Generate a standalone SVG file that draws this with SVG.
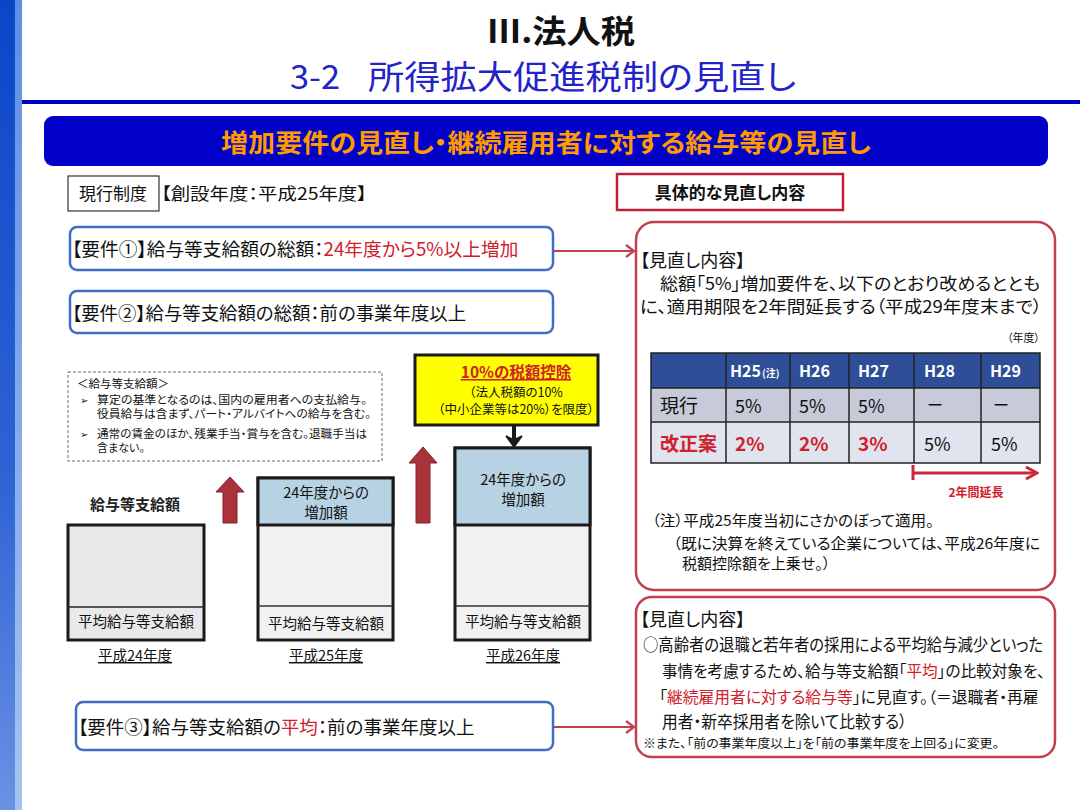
<svg xmlns="http://www.w3.org/2000/svg" width="1080" height="810" viewBox="0 0 1080 810">
<defs>
<style>
text{font-family:"Noto Sans CJK JP","Noto Sans",sans-serif;fill:#111;font-feature-settings:"palt";}
.b{font-weight:bold;}
.red{fill:#d0202c;}
.req{fill:#fff;stroke:#3c6ec4;stroke-width:2.5;}
.rbox{fill:#fff;stroke:#c2404e;stroke-width:2.5;}
.bar{stroke:#1a1a1a;stroke-width:3;}
.conn{stroke:#c0404e;stroke-width:2.2;fill:none;}
.up{fill:#a9323b;stroke:#7e2028;stroke-width:1;}
.cell{stroke:#222;stroke-width:1.5;}
.hd{fill:#fff;font-weight:bold;}
</style>
<linearGradient id="strip" x1="0" y1="0" x2="0" y2="1">
<stop offset="0" stop-color="#0a46c8"/>
<stop offset="0.6" stop-color="#2f64d4"/>
<stop offset="1" stop-color="#6a92e4"/>
</linearGradient>
<linearGradient id="strip2" x1="0" y1="0" x2="0" y2="1">
<stop offset="0" stop-color="#5d8ee6"/>
<stop offset="1" stop-color="#a9c2f0"/>
</linearGradient>
<marker id="chev" markerWidth="12" markerHeight="14" refX="10" refY="7" orient="auto" markerUnits="userSpaceOnUse">
<path d="M2,1 L10,7 L2,13" fill="none" stroke="#c0404e" stroke-width="2.2"/>
</marker>
<marker id="tri" markerWidth="14" markerHeight="14" refX="12" refY="7" orient="auto" markerUnits="userSpaceOnUse">
<path d="M1,1 L12,7 L1,13" fill="none" stroke="#c8283c" stroke-width="3"/>
</marker>
</defs>
<rect width="1080" height="810" fill="#fff"/>
<rect x="0" y="0" width="15" height="810" fill="url(#strip)"/>
<rect x="15" y="0" width="7" height="810" fill="url(#strip2)"/>

<g id="title">
<text x="561" y="43" font-size="32" text-anchor="middle" class="b" textLength="148" lengthAdjust="spacingAndGlyphs">Ⅲ.法人税</text>
<text x="290" y="89" font-size="33" style="fill:#2323c8" textLength="50" lengthAdjust="spacingAndGlyphs">3-2</text>
<text x="368" y="89" font-size="33" style="fill:#2323c8" textLength="428" lengthAdjust="spacingAndGlyphs">所得拡大促進税制の見直し</text>
<rect x="22" y="100" width="1058" height="4" fill="#0000c0"/>
</g>

<g id="banner">
<rect x="44" y="116" width="1004" height="50" rx="9" fill="#0000c8"/>
<text x="546" y="152" font-size="25" text-anchor="middle" class="b" style="fill:#ff9a00" textLength="650" lengthAdjust="spacingAndGlyphs">増加要件の見直し・継続雇用者に対する給与等の見直し</text>
</g>

<g id="current-system">
<rect x="68" y="176" width="91" height="35" fill="#fff" stroke="#333" stroke-width="1.2"/>
<text x="113" y="200" font-size="17" text-anchor="middle">現行制度</text>
<text x="161" y="200" font-size="17" textLength="206" lengthAdjust="spacingAndGlyphs">【創設年度：平成25年度】</text>
</g>

<g id="concrete-title">
<rect x="617" y="174" width="226" height="36" fill="#fff" stroke="#c0203a" stroke-width="2.5"/>
<text x="730" y="199" font-size="17" text-anchor="middle" class="b">具体的な見直し内容</text>
</g>

<g id="req1">
<rect class="req" x="70" y="227" width="483" height="43" rx="7"/>
<text x="72" y="256" font-size="18.7">【要件①】給与等支給額の総額：<tspan class="red">24年度から5%以上増加</tspan></text>
</g>

<g id="req2">
<rect class="req" x="70" y="291" width="483" height="42" rx="7"/>
<text x="72" y="320" font-size="18.4">【要件②】給与等支給額の総額：前の事業年度以上</text>
</g>

<g id="note-box">
<rect x="68" y="372" width="314" height="89" fill="#fff" stroke="#666" stroke-width="1" stroke-dasharray="3,2"/>
<text x="77" y="388" font-size="11.5">＜給与等支給額＞</text>
<text x="80" y="404" font-size="10">➢</text>
<text x="97" y="404" font-size="11" textLength="270" lengthAdjust="spacingAndGlyphs">算定の基準となるのは、国内の雇用者への支払給与。</text>
<text x="97" y="418" font-size="11" textLength="274" lengthAdjust="spacingAndGlyphs">役員給与は含まず、パート・アルバイトへの給与を含む。</text>
<text x="80" y="438" font-size="10">➢</text>
<text x="97" y="438" font-size="11" textLength="270" lengthAdjust="spacingAndGlyphs">通常の賃金のほか、残業手当・賞与を含む。退職手当は</text>
<text x="97" y="452" font-size="11">含まない。</text>
</g>

<g id="tax-credit">
<rect x="415" y="355" width="183" height="70" fill="#ffff00" stroke="#1a1a1a" stroke-width="3"/>
<text x="516" y="378" font-size="15.5" text-anchor="middle" class="b red" text-decoration="underline">10%の税額控除</text>
<text x="516" y="397" font-size="12.5" text-anchor="middle">（法人税額の10%</text>
<text x="516" y="414" font-size="12.5" text-anchor="middle">（中小企業等は20%）を限度）</text>
</g>

<g id="bar-h24">
<text x="135" y="510" font-size="15" text-anchor="middle" class="b" style="fill:#222">給与等支給額</text>
<rect class="bar" x="68" y="525" width="136" height="115" fill="#e9e9e9"/>
<line x1="68" y1="607" x2="204" y2="607" stroke="#222" stroke-width="1.5"/>
<text x="136" y="627" font-size="14.5" text-anchor="middle">平均給与等支給額</text>
<text x="135" y="661" font-size="14.5" text-anchor="middle" text-decoration="underline">平成24年度</text>
</g>

<g id="bar-h25">
<rect class="bar" x="258" y="478" width="135" height="162" fill="#f1f1f1"/>
<rect x="258" y="478" width="135" height="47" fill="#b7d3e3" stroke="#1a1a1a" stroke-width="3"/>
<line x1="258" y1="606" x2="393" y2="606" stroke="#333" stroke-width="1.5"/>
<text x="326" y="498" font-size="14.5" text-anchor="middle">24年度からの</text>
<text x="326" y="518" font-size="14.5" text-anchor="middle">増加額</text>
<text x="326" y="629" font-size="14.5" text-anchor="middle">平均給与等支給額</text>
<text x="326" y="661" font-size="14.5" text-anchor="middle" text-decoration="underline">平成25年度</text>
</g>

<g id="bar-h26">
<rect class="bar" x="455" y="448" width="135" height="192" fill="#f1f1f1"/>
<rect x="455" y="448" width="135" height="77" fill="#b7d3e3" stroke="#1a1a1a" stroke-width="3"/>
<line x1="455" y1="606" x2="590" y2="606" stroke="#333" stroke-width="1.5"/>
<text x="523" y="485" font-size="14.5" text-anchor="middle">24年度からの</text>
<text x="523" y="505" font-size="14.5" text-anchor="middle">増加額</text>
<text x="523" y="627" font-size="14.5" text-anchor="middle">平均給与等支給額</text>
<text x="523" y="661" font-size="14.5" text-anchor="middle" text-decoration="underline">平成26年度</text>
</g>

<g id="req3">
<rect class="req" x="76" y="702" width="477" height="48" rx="7"/>
<text x="78" y="734" font-size="18.5">【要件③】給与等支給額の<tspan class="red">平均</tspan>：前の事業年度以上</text>
</g>

<g id="review1">
<rect class="rbox" x="636" y="222" width="419" height="368" rx="18"/>
<text x="640" y="267" font-size="18">【見直し内容】</text>
<text x="660" y="290" font-size="17" textLength="380" lengthAdjust="spacingAndGlyphs">総額「5%」増加要件を、以下のとおり改めるととも</text>
<text x="640" y="313" font-size="17" textLength="402" lengthAdjust="spacingAndGlyphs">に、適用期限を2年間延長する（平成29年度末まで）</text>
<text x="1040" y="342" font-size="11" text-anchor="end">（年度）</text>
<g id="table">
<rect x="651" y="353" width="389" height="35" fill="#2e4e98"/>
<rect x="651" y="388" width="389" height="34" fill="#c6cad9"/>
<rect x="651" y="422" width="389" height="41" fill="#dfe4ee"/>
<g class="cell">
<rect x="651" y="353" width="389" height="110" fill="none"/>
<line x1="651" y1="388" x2="1040" y2="388"/>
<line x1="651" y1="422" x2="1040" y2="422"/>
<line x1="726" y1="353" x2="726" y2="463"/>
<line x1="790" y1="353" x2="790" y2="463"/>
<line x1="849" y1="353" x2="849" y2="463"/>
<line x1="914" y1="353" x2="914" y2="463"/>
<line x1="981" y1="353" x2="981" y2="463"/>
</g>
<text x="730" y="377" font-size="16" class="hd">H25</text>
<text x="762" y="377" font-size="10" class="hd">(注)</text>
<text x="799" y="377" font-size="16" class="hd">H26</text>
<text x="858" y="377" font-size="16" class="hd">H27</text>
<text x="924" y="377" font-size="16" class="hd">H28</text>
<text x="990" y="377" font-size="16" class="hd">H29</text>
<text x="660" y="413" font-size="19">現行</text>
<text x="735" y="413" font-size="18">5%</text>
<text x="799" y="413" font-size="18">5%</text>
<text x="858" y="413" font-size="18">5%</text>
<text x="927" y="411" font-size="16">ー</text>
<text x="993" y="411" font-size="16">ー</text>
<text x="660" y="451" font-size="19" class="b red">改正案</text>
<text x="735" y="451" font-size="19" class="b red">2%</text>
<text x="799" y="451" font-size="19" class="b red">2%</text>
<text x="858" y="451" font-size="19" class="b red">3%</text>
<text x="924" y="451" font-size="18">5%</text>
<text x="991" y="451" font-size="18">5%</text>
</g>
<text x="976" y="497" font-size="12" text-anchor="middle" class="b red">2年間延長</text>
<text x="652" y="526" font-size="15" textLength="282" lengthAdjust="spacingAndGlyphs">（注）平成25年度当初にさかのぼって適用。</text>
<text x="673" y="549" font-size="15" textLength="367" lengthAdjust="spacingAndGlyphs">（既に決算を終えている企業については、平成26年度に</text>
<text x="682" y="569" font-size="15">税額控除額を上乗せ。）</text>
</g>

<g id="review2">
<rect class="rbox" x="636" y="597" width="419" height="160" rx="16"/>
<text x="640" y="626" font-size="18">【見直し内容】</text>
<text x="643" y="651" font-size="16.5" textLength="400" lengthAdjust="spacingAndGlyphs">○高齢者の退職と若年者の採用による平均給与減少といった</text>
<text x="662" y="677" font-size="15.6">事情を考慮するため、給与等支給額「<tspan class="red">平均</tspan>」の比較対象を、</text>
<text x="659" y="703" font-size="15.8">「<tspan class="red">継続雇用者に対する給与等</tspan>」に見直す。（＝退職者・再雇</text>
<text x="662" y="728" font-size="16.5" textLength="245" lengthAdjust="spacingAndGlyphs">用者・新卒採用者を除いて比較する）</text>
<text x="643" y="748" font-size="12.5" textLength="356" lengthAdjust="spacingAndGlyphs">※また、「前の事業年度以上」を「前の事業年度を上回る」に変更。</text>
</g>

<g id="connectors">
<line class="conn" x1="553" y1="251" x2="634" y2="251" marker-end="url(#chev)"/>
<line class="conn" x1="553" y1="727" x2="634" y2="727" marker-end="url(#chev)"/>
<path class="up" d="M223,523 V492 H216 L230,477 L244,492 H237 V523 Z"/>
<path class="up" d="M416,523 V463 H409 L423,447 L437,463 H430 V523 Z"/>
<path d="M514,426 V440" stroke="#1a1a1a" stroke-width="4"/>
<path d="M506,436 L514,447 L522,436 L514,440 Z" fill="#1a1a1a" stroke="#1a1a1a" stroke-width="1.5"/>
<path d="M913,465 V480" stroke="#c8283c" stroke-width="3" fill="none"/>
<line x1="913" y1="473" x2="1037" y2="473" stroke="#c8283c" stroke-width="3" marker-end="url(#tri)"/>
</g>
</svg>
